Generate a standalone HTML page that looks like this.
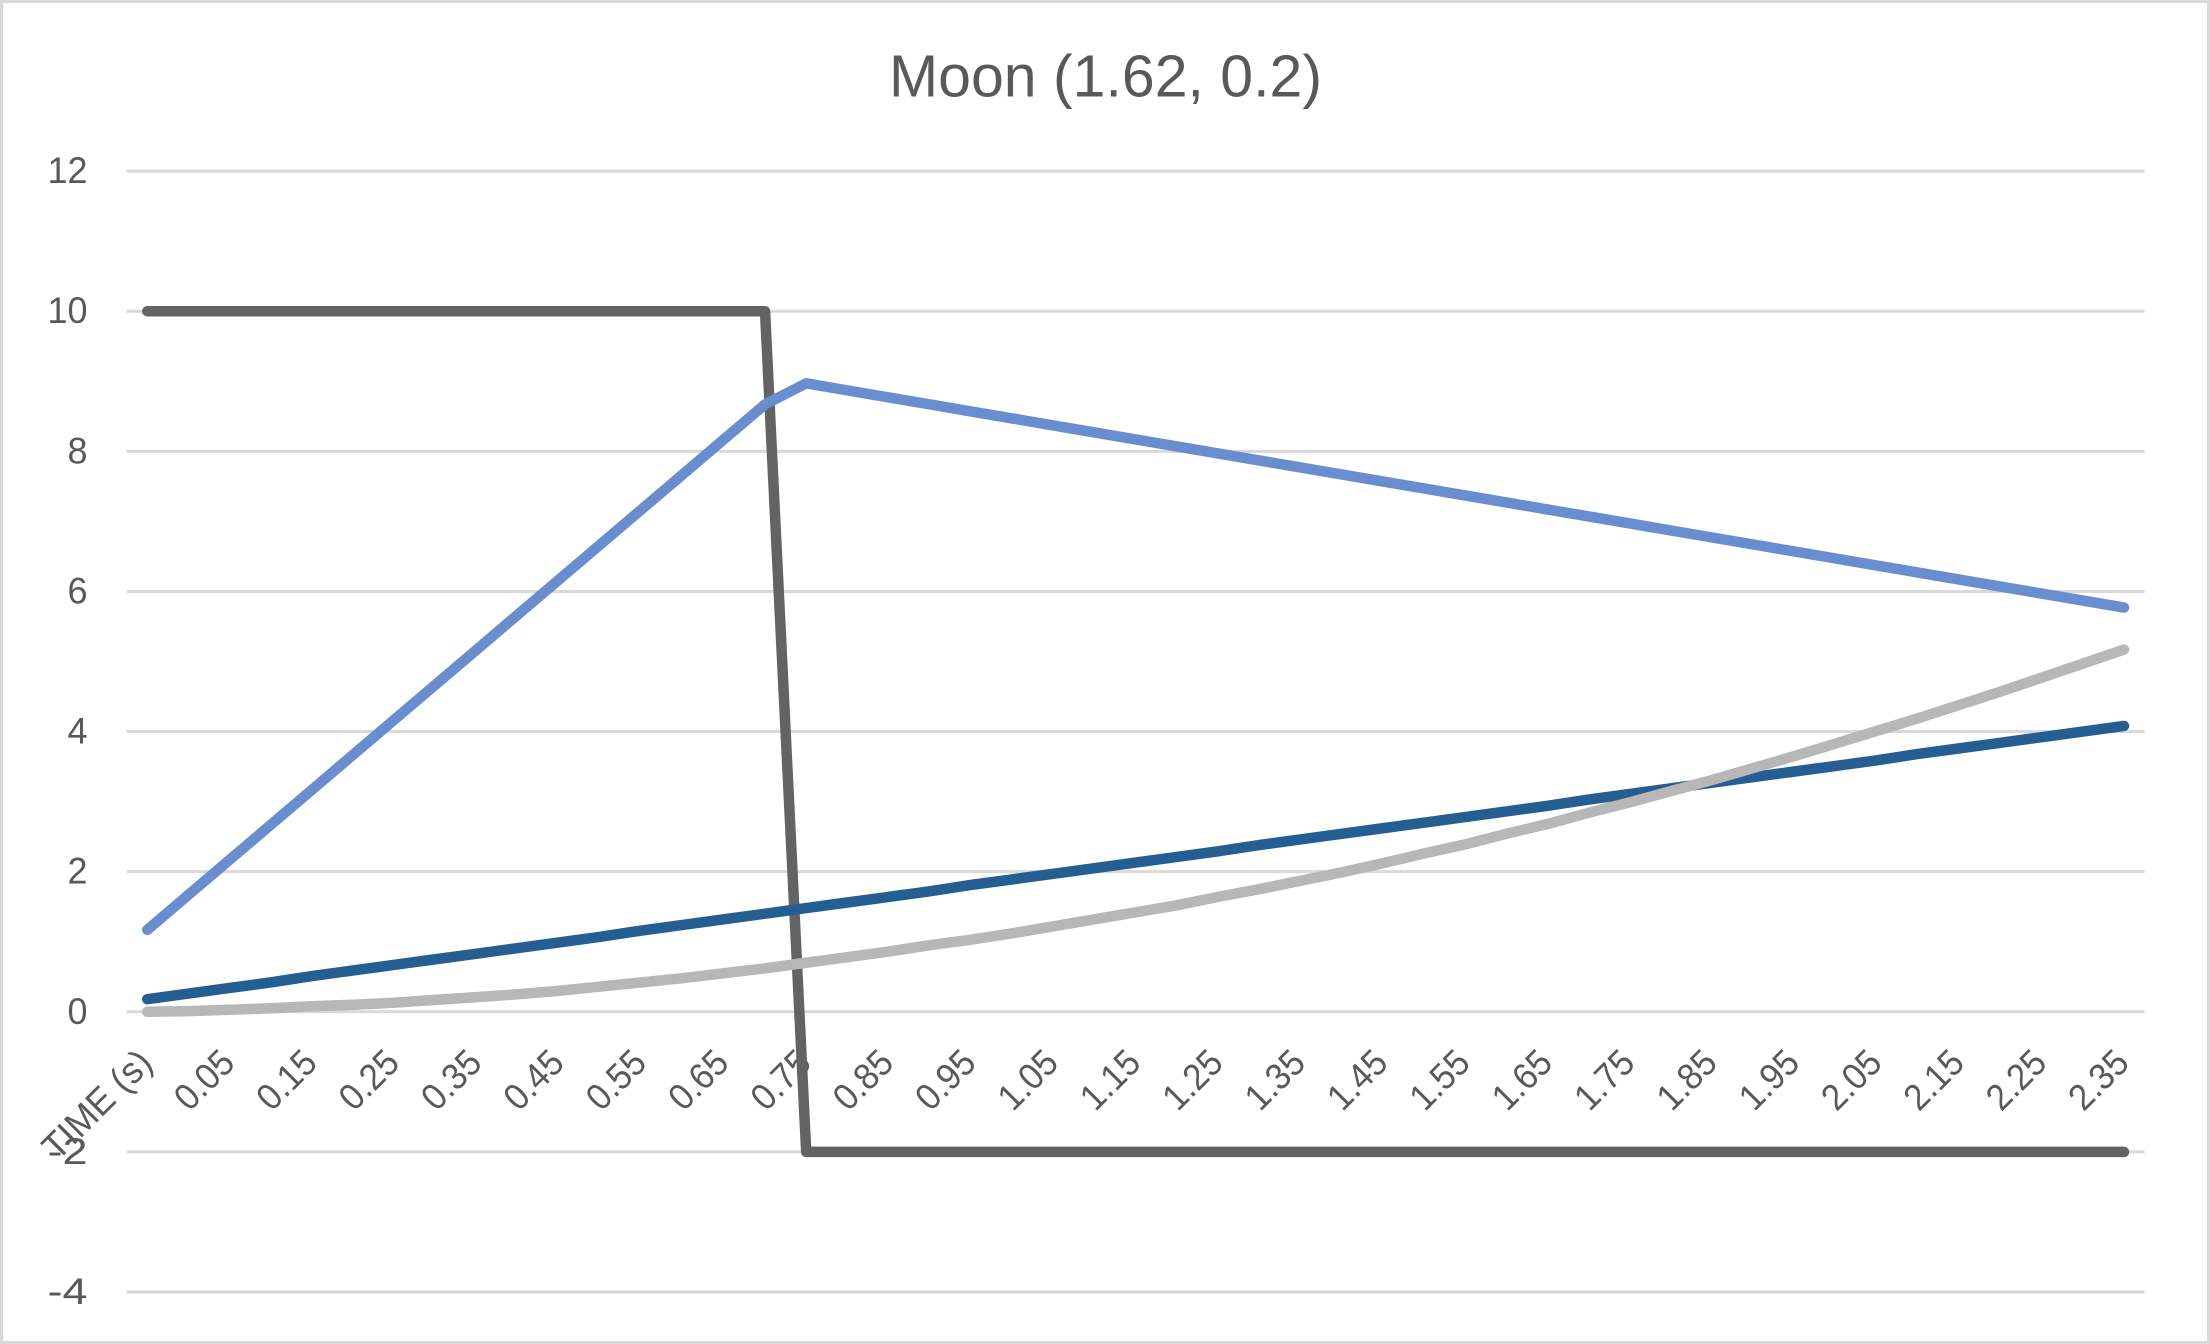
<!DOCTYPE html>
<html lang="en">
<head>
<meta charset="utf-8">
<title>Moon (1.62, 0.2)</title>
<style>
  html, body { margin: 0; padding: 0; background: #fff; }
  #chart { display: block; width: 2210px; height: 1344px; }
  text { font-family: "Liberation Sans", sans-serif; fill: #595959; }
</style>
</head>
<body>
<svg id="chart" xmlns="http://www.w3.org/2000/svg" width="2210" height="1344" viewBox="0 0 2210 1344">
  <rect x="1.5" y="1.5" width="2207" height="1341" fill="#ffffff" stroke="#d9d9d9" stroke-width="3"/>
  <text x="1105.5" y="96.5" text-anchor="middle" font-size="59" textLength="433" lengthAdjust="spacingAndGlyphs">Moon (1.62, 0.2)</text>
  <g id="grid"></g>
  <g id="yticks"></g>
  <g id="xticks"></g>
  <g id="series"></g>
</svg>
<script>
const categories = ["TIME (s)","0","0.05","0.1","0.15","0.2","0.25","0.3","0.35","0.4","0.45","0.5","0.55","0.6","0.65","0.7","0.75","0.8","0.85","0.9","0.95","1","1.05","1.1","1.15","1.2","1.25","1.3","1.35","1.4","1.45","1.5","1.55","1.6","1.65","1.7","1.75","1.8","1.85","1.9","1.95","2","2.05","2.1","2.15","2.2","2.25","2.3","2.35"];
const yTicks = [12,10,8,6,4,2,0,-2,-4];
const accelerationValues = [10,10,10,10,10,10,10,10,10,10,10,10,10,10,10,10,-2,-2,-2,-2,-2,-2,-2,-2,-2,-2,-2,-2,-2,-2,-2,-2,-2,-2,-2,-2,-2,-2,-2,-2,-2,-2,-2,-2,-2,-2,-2,-2,-2];
const heightValues = [0.18,0.26,0.34,0.42,0.51,0.59,0.67,0.75,0.83,0.91,0.99,1.07,1.16,1.24,1.32,1.40,1.48,1.56,1.64,1.72,1.81,1.89,1.97,2.05,2.13,2.21,2.29,2.38,2.46,2.54,2.62,2.70,2.78,2.86,2.94,3.03,3.11,3.19,3.27,3.35,3.43,3.51,3.59,3.68,3.76,3.84,3.92,4.00,4.08];
const velocityValues = [1.17,1.67,2.17,2.67,3.17,3.67,4.17,4.67,5.17,5.67,6.17,6.67,7.17,7.67,8.17,8.67,8.97,8.87,8.77,8.67,8.57,8.47,8.37,8.27,8.17,8.07,7.97,7.87,7.77,7.67,7.57,7.47,7.37,7.27,7.17,7.07,6.97,6.87,6.77,6.67,6.57,6.47,6.37,6.27,6.17,6.07,5.97,5.87,5.77];
const distanceValues = [0,0.01,0.03,0.05,0.08,0.10,0.13,0.17,0.21,0.25,0.30,0.36,0.42,0.48,0.55,0.62,0.70,0.78,0.86,0.95,1.03,1.12,1.22,1.32,1.42,1.52,1.64,1.75,1.87,1.99,2.12,2.26,2.39,2.54,2.68,2.84,2.99,3.15,3.31,3.48,3.65,3.83,4.01,4.19,4.38,4.57,4.77,4.97,5.17];

const SVG_NS = 'http://www.w3.org/2000/svg';
const plotLeft = 126.7, plotRight = 2144.6;
const yZero = 1011.8, yUnit = 70.06;
const xStep = (plotRight - plotLeft) / categories.length;
function xScale(i) { return plotLeft + xStep * (i + 0.5); }
function yScale(v) { return yZero - yUnit * v; }

const gridGroup = document.getElementById('grid');
const yGroup = document.getElementById('yticks');
yTicks.forEach(function (tick) {
  const line = document.createElementNS(SVG_NS, 'line');
  
  
  line.setAttribute('x1', plotLeft);
  line.setAttribute('x2', plotRight);
  line.setAttribute('y1', yScale(tick));
  line.setAttribute('y2', yScale(tick));
  line.setAttribute('stroke', '#d9d9d9');
  line.setAttribute('stroke-width', '3');
  gridGroup.appendChild(line);

  const label = document.createElementNS(SVG_NS, 'text');
  
  
  label.setAttribute('x', 87.5);
  label.setAttribute('y', yScale(tick) + 12);
  label.setAttribute('text-anchor', 'end');
  label.setAttribute('font-size', '37.5');
  const tickText = String(tick);
  label.setAttribute('textLength', tickText.length * 20);
  label.setAttribute('lengthAdjust', 'spacingAndGlyphs');
  label.textContent = tickText;
  yGroup.appendChild(label);
});

const xGroup = document.getElementById('xticks');
categories.forEach(function (cat, i) {
  if (i % 2 !== 0) return;
  const label = document.createElementNS(SVG_NS, 'text');
  
  
  const px = xScale(i) + 7;
  const py = 1065;
  label.setAttribute('x', px);
  label.setAttribute('y', py);
  label.setAttribute('text-anchor', 'end');
  label.setAttribute('font-size', '37');
  label.setAttribute('textLength', i === 0 ? 137 : 67);
  label.setAttribute('lengthAdjust', 'spacingAndGlyphs');
  label.setAttribute('transform', 'rotate(-45 ' + px + ' ' + py + ')');
  label.textContent = cat;
  xGroup.appendChild(label);
});

function drawSeries(values, color, name) {
  const line = document.createElementNS(SVG_NS, 'polyline');
  
  
  line.setAttribute('points', values.map(function (v, i) {
    return xScale(i).toFixed(2) + ',' + yScale(v).toFixed(2);
  }).join(' '));
  line.setAttribute('fill', 'none');
  line.setAttribute('stroke', color);
  line.setAttribute('stroke-width', '10.5');
  line.setAttribute('stroke-linecap', 'round');
  line.setAttribute('stroke-linejoin', 'round');
  document.getElementById('series').appendChild(line);
}
drawSeries(accelerationValues, '#636363', 'acceleration-line');
drawSeries(heightValues, '#255e91', 'height-line');
drawSeries(velocityValues, '#698ed0', 'velocity-line');
drawSeries(distanceValues, '#b7b7b7', 'distance-line');
</script>
</body>
</html>
